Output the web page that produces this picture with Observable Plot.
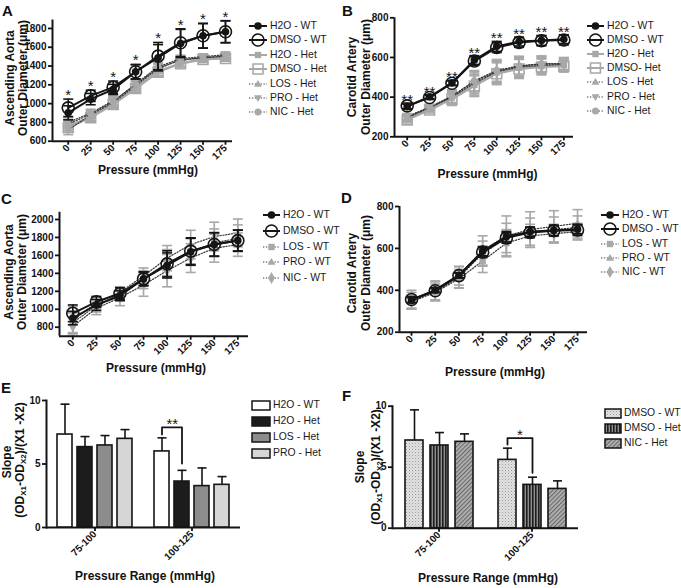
<!DOCTYPE html>
<html>
<head>
<meta charset="utf-8">
<script src="https://cdn.jsdelivr.net/npm/d3@7"></script>
<script src="https://cdn.jsdelivr.net/npm/@observablehq/plot@0.6"></script>
<style>
  html,body{margin:0;padding:0;background:#fff;}
  #root{position:relative;width:681px;height:588px;overflow:hidden;font-family:"Liberation Sans",Arial,sans-serif;color:#111;}
  .abs{position:absolute;}
  .letter{font-weight:bold;font-size:15px;line-height:15px;}
  .title{font-weight:bold;font-size:12px;line-height:12px;white-space:nowrap;}
  .title sub{font-size:8px;vertical-align:-2px;line-height:0;}
  .legt{font-size:10.4px;line-height:12px;white-space:nowrap;color:#1a1a1a;}
</style>
</head>
<body>
<svg width="0" height="0" style="position:absolute">
  <defs>
    <pattern id="pDots" width="3" height="3" patternUnits="userSpaceOnUse">
      <rect width="3" height="3" fill="#e2e2e2"/>
      <rect x="0" y="0" width="1" height="1" fill="#9c9c9c"/>
      <rect x="1.5" y="1.5" width="1" height="1" fill="#b8b8b8"/>
    </pattern>
    <pattern id="pVert" width="3" height="3" patternUnits="userSpaceOnUse">
      <rect width="3" height="3" fill="#8e8e8e"/>
      <rect width="1.6" height="3" fill="#1e1e1e"/>
    </pattern>
    <pattern id="pDiag" width="3" height="3" patternUnits="userSpaceOnUse" patternTransform="rotate(45)">
      <rect width="3" height="3" fill="#b4b4b4"/>
      <rect width="1.2" height="3" fill="#6a6a6a"/>
    </pattern>
  </defs>
</svg>
<div id="root"></div>
<script>
// ================= DATA =================
const pressure = [0, 25, 50, 75, 100, 125, 150, 175];

// Panel A – ascending aorta outer diameter (µm), WT vs Het
const aH2O_WT     = [902, 1048, 1150, 1339, 1488, 1640, 1722, 1765];
const aH2O_WT_sd  = [75, 60, 55, 75, 140, 150, 130, 115];
const aDMSO_WT    = [955, 1083, 1175, 1339, 1506, 1648, 1722, 1765];
const aDMSO_WT_sd = [93, 60, 65, 78, 145, 148, 132, 118];
const aH2O_Het    = [760, 860, 1000, 1170, 1345, 1430, 1475, 1485];
const aDMSO_Het   = [745, 850, 990, 1160, 1335, 1425, 1470, 1480];
const aLOS_Het    = [800, 900, 1030, 1200, 1380, 1460, 1490, 1500];
const aPRO_Het    = [720, 880, 1010, 1190, 1370, 1470, 1485, 1510];
const aNIC_Het    = [780, 890, 1020, 1210, 1390, 1480, 1500, 1520];
const aHet_sd     = [50, 40, 45, 45, 45, 35, 30, 30];
const aStars      = ["*", "*", "*", "*", "*", "*", "*", "*"];

// Panel B – carotid artery outer diameter (µm), WT vs Het
const bH2O_WT     = [352, 402, 472, 587, 656, 680, 686, 692];
const bH2O_WT_sd  = [12, 10, 12, 22, 25, 22, 25, 22];
const bDMSO_WT    = [356, 398, 470, 582, 650, 676, 684, 688];
const bDMSO_WT_sd = [14, 10, 12, 22, 25, 25, 25, 25];
const bH2O_Het    = [292, 342, 398, 462, 525, 548, 556, 562];
const bDMSO_Het   = [285, 335, 390, 455, 518, 542, 552, 556];
const bLOS_Het    = [302, 350, 405, 478, 530, 556, 566, 568];
const bPRO_Het    = [296, 346, 400, 470, 528, 552, 560, 565];
const bNIC_Het    = [300, 348, 404, 482, 535, 558, 568, 570];
const bHet_sd     = [15, 15, 32, 52, 55, 48, 40, 30];
const bStars      = ["**", "**", "**", "**", "**", "**", "**", "**"];

// Panel C – ascending aorta, WT treatments (H2O / DMSO WT as in A)
const cLOS_WT     = [850, 1040, 1170, 1330, 1520, 1640, 1740, 1790];
const cLOS_WT_sd  = [110, 70, 70, 100, 145, 150, 155, 150];
const cPRO_WT     = [880, 1070, 1190, 1370, 1570, 1720, 1810, 1850];
const cPRO_WT_sd  = [150, 65, 60, 90, 140, 160, 160, 155];
const cNIC_WT     = [810, 1010, 1130, 1270, 1430, 1570, 1680, 1720];
const cNIC_WT_sd  = [85, 70, 90, 125, 180, 160, 155, 130];

// Panel D – carotid artery, WT treatments (H2O / DMSO WT as in B)
const dLOS_WT     = [345, 390, 455, 540, 625, 660, 670, 680];
const dLOS_WT_sd  = [30, 40, 45, 55, 65, 55, 45, 40];
const dPRO_WT     = [355, 400, 470, 590, 660, 690, 705, 720];
const dPRO_WT_sd  = [45, 45, 45, 70, 95, 85, 75, 65];
const dNIC_WT     = [350, 395, 462, 575, 650, 680, 690, 700];
const dNIC_WT_sd  = [40, 45, 50, 60, 70, 65, 60, 55];

// Panel E – slopes
const eRanges   = ["75-100", "100-125"];
const eSeries   = ["H2O - WT", "H2O - Het", "LOS - Het", "PRO - Het"];
const eMean75   = [7.32, 6.33, 6.46, 6.98];
const eSD75     = [2.39, 0.83, 0.78, 0.73];
const eMean100  = [5.99, 3.62, 3.26, 3.36];
const eSD100    = [1.07, 0.88, 1.43, 0.65];
const eBracket  = [7.32, 7.89, 5.03];
const eSig      = "**";

// Panel F – slopes
const fRanges   = ["75-100", "100-125"];
const fSeries   = ["DMSO - WT", "DMSO - Het", "NIC - Het"];
const fMean75   = [7.19, 6.78, 7.08];
const fSD75     = [2.51, 1.06, 0.65];
const fMean100  = [5.60, 3.55, 3.22];
const fSD100    = [0.96, 0.63, 0.66];
const fBracket  = [6.86, 7.38, 4.54];
const fSig      = "*";

// ================= STYLE =================
const BLACK = "#151515", GRAY = "#a8a8a8", DOTC = "#3a3a3a", DASH = "1.3,1.6";
const FONT = '"Liberation Sans", Arial, sans-serif';
const triUp = {draw(ctx, size) { const r = Math.sqrt(size / Math.PI); ctx.moveTo(0, -r * 1.1); ctx.lineTo(r * 1.1, r * 0.75); ctx.lineTo(-r * 1.1, r * 0.75); ctx.closePath(); }};
const triDown = {draw(ctx, size) { const r = Math.sqrt(size / Math.PI); ctx.moveTo(0, r * 1.1); ctx.lineTo(r * 1.1, -r * 0.75); ctx.lineTo(-r * 1.1, -r * 0.75); ctx.closePath(); }};
const capSym = {draw(ctx, size) { const r = Math.sqrt(size / Math.PI); ctx.moveTo(-r, 0); ctx.lineTo(r, 0); }};
const d3Sym = {circle: d3.symbolCircle, square: d3.symbolSquare, diamond: d3.symbolDiamond};

const sty = {
  "H2O - WT":  {sym: "circle", r: 3.8, fill: BLACK, stroke: "none", sw: 0, line: BLACK, lw: 2, err: BLACK},
  "DMSO - WT": {sym: "circle", r: 6, fill: "none", stroke: BLACK, sw: 1.6, line: BLACK, lw: 2, err: BLACK},
  "H2O - Het": {sym: "square", r: 3.6, fill: GRAY, stroke: "none", sw: 0, line: GRAY, lw: 2, err: GRAY},
  "DMSO - Het":{sym: "square", r: 5.6, fill: "none", stroke: GRAY, sw: 1.6, line: GRAY, lw: 2, err: GRAY},
  "LOS - Het": {sym: triUp, r: 3.6, fill: GRAY, stroke: "none", sw: 0, line: DOTC, lw: 1.2, dash: DASH, err: GRAY},
  "PRO - Het": {sym: triDown, r: 3.6, fill: GRAY, stroke: "none", sw: 0, line: DOTC, lw: 1.2, dash: DASH, err: GRAY},
  "NIC - Het": {sym: "circle", r: 3.5, fill: GRAY, stroke: "none", sw: 0, line: DOTC, lw: 1.2, dash: DASH, err: GRAY},
  "LOS - WT":  {sym: "square", r: 3.6, fill: GRAY, stroke: "none", sw: 0, line: DOTC, lw: 1.2, dash: DASH, err: GRAY},
  "PRO - WT":  {sym: triUp, r: 3.6, fill: GRAY, stroke: "none", sw: 0, line: DOTC, lw: 1.2, dash: DASH, err: GRAY},
  "NIC - WT":  {sym: "diamond", r: 3.6, fill: GRAY, stroke: "none", sw: 0, line: DOTC, lw: 1.2, dash: DASH, err: GRAY}
};

const root = d3.select("#root");
const plotStyle = {background: "transparent", overflow: "visible", fontFamily: FONT, fontSize: "10px", fontWeight: "bold", color: "#111"};

function place(svg, left, top) {
  svg.style.position = "absolute";
  svg.style.left = left + "px";
  svg.style.top = top + "px";
  root.node().appendChild(svg);
}

function rowsOf(name, vals, sds) {
  return pressure.map((p, i) => ({series: name, p, v: vals[i], sd: sds[i]}));
}

// ================= LINE PANELS =================
function linePanel(cfg) {
  const marks = [
    Plot.ruleX([cfg.xDomain[0]], {stroke: BLACK, strokeWidth: 2}),
    Plot.ruleY([cfg.yDomain[0]], {stroke: BLACK, strokeWidth: 2}),
    Plot.axisY({ticks: cfg.yTicks, tickSize: 4, tickPadding: 2, label: null, tickFormat: d => String(d), strokeWidth: 1.8}),
    Plot.axisX({ticks: pressure, tickSize: 4, tickPadding: 1, tickRotate: -45, label: null, tickFormat: d => String(d), strokeWidth: 1.8})
  ];
  for (const s of cfg.series) {
    const st = sty[s.name];
    const data = rowsOf(s.name, s.v, s.sd);
    marks.push(Plot.line(data, {x: "p", y: "v", stroke: st.line, strokeWidth: st.lw, strokeDasharray: st.dash}));
    marks.push(Plot.ruleX(data, {x: "p", y1: d => d.v - d.sd, y2: d => d.v + d.sd, stroke: st.err, strokeWidth: 1.6}));
    marks.push(Plot.dot(data, {x: "p", y: d => d.v + d.sd, symbol: capSym, r: 5, fill: "none", stroke: st.err, strokeWidth: 1.6}));
    marks.push(Plot.dot(data, {x: "p", y: d => d.v - d.sd, symbol: capSym, r: 5, fill: "none", stroke: st.err, strokeWidth: 1.6}));
    marks.push(Plot.dot(data, {x: "p", y: "v", symbol: st.sym, r: st.r, fill: st.fill, stroke: st.stroke, strokeWidth: st.sw}));
  }
  if (cfg.stars) {
    const sRows = pressure.map((p, i) => ({p, label: cfg.stars.labels[i],
      y: Math.max(...cfg.stars.ref.map(r => r.v[i] + r.sd[i]))}));
    marks.push(Plot.text(sRows, {x: "p", y: "y", text: "label", lineAnchor: "bottom", dy: cfg.stars.dy, fontSize: 15, fontWeight: "normal", fill: BLACK}));
  }
  const svg = Plot.plot({
    width: cfg.width, height: cfg.height,
    marginLeft: cfg.ml, marginRight: cfg.mr, marginTop: cfg.mt, marginBottom: cfg.mb,
    x: {type: "linear", domain: cfg.xDomain},
    y: {type: "linear", domain: cfg.yDomain},
    style: plotStyle,
    marks
  });
  place(svg, cfg.left, cfg.top);
}

const sA = {
  h2oWT: {name: "H2O - WT", v: aH2O_WT, sd: aH2O_WT_sd},
  dmsoWT: {name: "DMSO - WT", v: aDMSO_WT, sd: aDMSO_WT_sd}
};
const sB = {
  h2oWT: {name: "H2O - WT", v: bH2O_WT, sd: bH2O_WT_sd},
  dmsoWT: {name: "DMSO - WT", v: bDMSO_WT, sd: bDMSO_WT_sd}
};

// A
linePanel({
  left: 0, top: 0, width: 240, height: 185, ml: 52, mr: 8, mt: 19.5, mb: 44.3,
  xDomain: [-17.5, 182.8], yDomain: [600, 1890], yTicks: [600, 800, 1000, 1200, 1400, 1600, 1800],
  series: [
    {name: "DMSO - Het", v: aDMSO_Het, sd: aHet_sd},
    {name: "H2O - Het", v: aH2O_Het, sd: aHet_sd},
    {name: "LOS - Het", v: aLOS_Het, sd: aHet_sd},
    {name: "PRO - Het", v: aPRO_Het, sd: aHet_sd},
    {name: "NIC - Het", v: aNIC_Het, sd: aHet_sd},
    sA.h2oWT, sA.dmsoWT
  ],
  stars: {labels: aStars, ref: [sA.h2oWT, sA.dmsoWT], dy: 1}
});
// B
linePanel({
  left: 340, top: 0, width: 240, height: 185, ml: 54, mr: 7, mt: 17.3, mb: 48.7,
  xDomain: [-14.2, 185.8], yDomain: [200, 800], yTicks: [200, 400, 600, 800],
  series: [
    {name: "DMSO - Het", v: bDMSO_Het, sd: bHet_sd},
    {name: "H2O - Het", v: bH2O_Het, sd: bHet_sd},
    {name: "LOS - Het", v: bLOS_Het, sd: bHet_sd},
    {name: "PRO - Het", v: bPRO_Het, sd: bHet_sd},
    {name: "NIC - Het", v: bNIC_Het, sd: bHet_sd},
    sB.h2oWT, sB.dmsoWT
  ],
  stars: {labels: bStars, ref: [sB.h2oWT, sB.dmsoWT], dy: 2}
});
// C
linePanel({
  left: 0, top: 190, width: 260, height: 185, ml: 59, mr: 12, mt: 21.8, mb: 39.3,
  xDomain: [-14.1, 186.3], yDomain: [700, 2080], yTicks: [800, 1000, 1200, 1400, 1600, 1800, 2000],
  series: [
    {name: "LOS - WT", v: cLOS_WT, sd: cLOS_WT_sd},
    {name: "PRO - WT", v: cPRO_WT, sd: cPRO_WT_sd},
    {name: "NIC - WT", v: cNIC_WT, sd: cNIC_WT_sd},
    sA.h2oWT, sA.dmsoWT
  ]
});
// D
linePanel({
  left: 340, top: 190, width: 260, height: 185, ml: 59, mr: 13, mt: 16, mb: 43.3,
  xDomain: [-12.65, 185.5], yDomain: [200, 800], yTicks: [200, 400, 600, 800],
  series: [
    {name: "LOS - WT", v: dLOS_WT, sd: dLOS_WT_sd},
    {name: "PRO - WT", v: dPRO_WT, sd: dPRO_WT_sd},
    {name: "NIC - WT", v: dNIC_WT, sd: dNIC_WT_sd},
    sB.h2oWT, sB.dmsoWT
  ]
});

// ================= BAR PANELS =================
function barPanel(cfg) {
  const data = [];
  cfg.groups.forEach((g, gi) => cfg.series.forEach((s, si) =>
    data.push({g, s, v: cfg.means[gi][si], sd: cfg.sds[gi][si]})));
  const br = [
    {g: cfg.groups[1], s: cfg.series[0], y: cfg.bracket[0]},
    {g: cfg.groups[1], s: cfg.series[0], y: cfg.bracket[1]},
    {g: cfg.groups[1], s: cfg.series[1], y: cfg.bracket[1]},
    {g: cfg.groups[1], s: cfg.series[1], y: cfg.bracket[2]}
  ];
  const marks = [
    Plot.frame({anchor: "left", facetAnchor: "left", stroke: BLACK, strokeWidth: 2}),
    Plot.ruleY([0], {stroke: BLACK, strokeWidth: 2}),
    Plot.axisY({ticks: [0, 5, 10], tickSize: 4, tickPadding: 2, label: null, strokeWidth: 1.8}),
    Plot.axisFx({anchor: "bottom", tickSize: 4, tickPadding: 1, tickRotate: -45, label: null, strokeWidth: 1.8})
  ];
  cfg.series.forEach((s, si) => {
    marks.push(Plot.barY(data.filter(d => d.s === s), {fx: "g", x: "s", y: "v", fill: cfg.fills[si], stroke: BLACK, strokeWidth: 1.6}));
  });
  marks.push(Plot.ruleX(data, {fx: "g", x: "s", y1: "v", y2: d => d.v + d.sd, stroke: BLACK, strokeWidth: 1.6}));
  marks.push(Plot.dot(data, {fx: "g", x: "s", y: d => d.v + d.sd, symbol: capSym, r: 4.5, fill: "none", stroke: BLACK, strokeWidth: 1.6}));
  marks.push(Plot.line(br, {fx: "g", x: "s", y: "y", stroke: BLACK, strokeWidth: 1.8}));
  marks.push(Plot.text([br[1]], {fx: "g", x: "s", y: "y", text: () => cfg.sig, dx: cfg.sigDx, dy: 2, lineAnchor: "bottom", fontSize: 15, fontWeight: "normal", fill: BLACK}));
  const svg = Plot.plot({
    width: cfg.width, height: cfg.height,
    marginLeft: cfg.ml, marginRight: cfg.mr, marginTop: cfg.mt, marginBottom: cfg.mb,
    fx: {domain: cfg.groups, paddingInner: 0, paddingOuter: 0},
    x: {domain: cfg.series, paddingInner: cfg.pin, paddingOuter: cfg.pout, axis: null},
    y: {domain: [0, 10]},
    style: plotStyle,
    marks
  });
  place(svg, cfg.left, cfg.top);
}

barPanel({
  left: 0, top: 380, width: 250, height: 208, ml: 46, mr: 10, mt: 20, mb: 61,
  groups: eRanges, series: eSeries, means: [eMean75, eMean100], sds: [eSD75, eSD100],
  fills: ["#ffffff", "#1c1c1c", "#8c8c8c", "#d6d6d6"],
  pin: 0.27, pout: 0.5, bracket: eBracket, sig: eSig, sigDx: 10.3
});
barPanel({
  left: 340, top: 380, width: 250, height: 208, ml: 52, mr: 12, mt: 25.7, mb: 60.3,
  groups: fRanges, series: fSeries, means: [fMean75, fMean100], sds: [fSD75, fSD100],
  fills: ["url(#pDots)", "url(#pVert)", "url(#pDiag)"],
  pin: 0.3, pout: 0.51, bracket: fBracket, sig: fSig, sigDx: 12.5
});

// ================= TEXT =================
function addText(html, cx, cy, cls, rot) {
  root.append("div").attr("class", "abs " + cls)
    .style("left", cx + "px").style("top", cy + "px")
    .style("transform", "translate(-50%,-50%)" + (rot ? " rotate(-90deg)" : ""))
    .html(html);
}
function addLetter(t, left, top) {
  root.append("div").attr("class", "abs letter").style("left", left + "px").style("top", top + "px").text(t);
}
addLetter("A", 2, 3); addLetter("B", 342, 3); addLetter("C", 1, 191);
addLetter("D", 341, 190); addLetter("E", 1, 380); addLetter("F", 342, 388);

addText("Pressure (mmHg)", 148, 170, "title");
addText("Pressure (mmHg)", 487.5, 173.5, "title");
addText("Pressure (mmHg)", 156, 367.5, "title");
addText("Pressure (mmHg)", 495, 371.5, "title");
addText("Pressure Range (mmHg)", 145, 576, "title");
addText("Pressure Range (mmHg)", 488, 578, "title");

addText("Ascending Aorta", 9.5, 78, "title", true);
addText("Outer Diameter (μm)", 23, 78, "title", true);
addText("Carotid Artery", 352, 77, "title", true);
addText("Outer Diameter (μm)", 365.5, 77, "title", true);
addText("Ascending Aorta", 8.5, 272, "title", true);
addText("Outer Diameter (μm)", 22, 272, "title", true);
addText("Carotid Artery", 352, 273, "title", true);
addText("Outer Diameter (μm)", 366, 273, "title", true);
const slopeLbl = "(OD<sub>X1</sub>-OD<sub>X2</sub>)/(X1 -X2)";
addText("Slope", 7, 462, "title", true);
addText(slopeLbl, 20, 460, "title", true);
addText("Slope", 360, 467, "title", true);
addText(slopeLbl, 376, 467, "title", true);

// ================= LEGENDS =================
function lineLegend(items, labels, x0, y0, step, textX) {
  items.forEach((name, i) => {
    const st = sty[name];
    const y = y0 + i * step;
    const w = textX - x0 - 3;
    const svg = root.append("svg").attr("class", "abs").style("left", x0 + "px").style("top", (y - 7) + "px")
      .attr("width", w).attr("height", 14);
    svg.append("line").attr("x1", 0).attr("x2", w).attr("y1", 7).attr("y2", 7)
      .attr("stroke", st.line).attr("stroke-width", st.lw).attr("stroke-dasharray", st.dash || null);
    const type = typeof st.sym === "string" ? d3Sym[st.sym] : st.sym;
    svg.append("path").attr("transform", `translate(${w / 2},7)`)
      .attr("d", d3.symbol(type, st.r * st.r * Math.PI)())
      .attr("fill", st.fill).attr("stroke", st.stroke).attr("stroke-width", st.sw);
    root.append("div").attr("class", "abs legt").style("left", textX + "px").style("top", (y - 6) + "px").text(labels[i]);
  });
}
function boxLegend(labels, fills, x0, y0, step, w, h, textX) {
  labels.forEach((lab, i) => {
    const y = y0 + i * step;
    const svg = root.append("svg").attr("class", "abs").style("left", x0 + "px").style("top", (y - h / 2 - 1) + "px")
      .attr("width", w + 2).attr("height", h + 2);
    svg.append("rect").attr("x", 1).attr("y", 1).attr("width", w).attr("height", h)
      .attr("fill", fills[i]).attr("stroke", BLACK).attr("stroke-width", 1.5);
    root.append("div").attr("class", "abs legt").style("left", textX + "px").style("top", (y - 6) + "px").text(lab);
  });
}

const legA = ["H2O - WT", "DMSO - WT", "H2O - Het", "DMSO - Het", "LOS - Het", "PRO - Het", "NIC - Het"];
lineLegend(legA, legA, 249, 26, 14.4, 270);
lineLegend(legA, ["H2O - WT", "DMSO - WT", "H2O - Het", "DMSO- Het", "LOS - Het", "PRO - Het", "NIC - Het"], 587, 26, 14.1, 607);
const legC = ["H2O - WT", "DMSO - WT", "LOS - WT", "PRO - WT", "NIC - WT"];
lineLegend(legC, legC, 263, 215, 15.8, 283);
lineLegend(legC, legC, 601, 215, 14.3, 622);
boxLegend(eSeries, ["#ffffff", "#1c1c1c", "#8c8c8c", "#d6d6d6"], 251, 405, 16, 18, 9, 273);
boxLegend(fSeries, ["url(#pDots)", "url(#pVert)", "url(#pDiag)"], 604, 413, 15, 16, 9, 624);
</script>
</body>
</html>
